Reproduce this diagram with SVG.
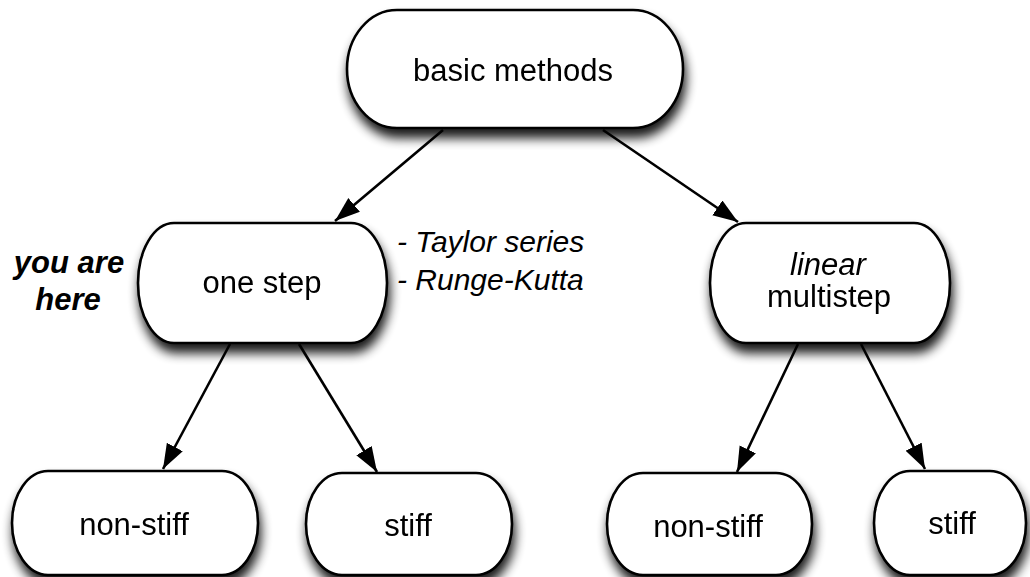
<svg xmlns="http://www.w3.org/2000/svg" width="1030" height="577" viewBox="0 0 1030 577">
  <defs>
    <filter id="shadow" x="-20%" y="-20%" width="140%" height="160%">
      <feGaussianBlur in="SourceAlpha" stdDeviation="5.5"/>
      <feOffset dx="2" dy="9" result="b"/>
      <feComponentTransfer in="b" result="s"><feFuncA type="linear" slope="0.9"/></feComponentTransfer>
      <feMerge><feMergeNode in="s"/><feMergeNode in="SourceGraphic"/></feMerge>
    </filter>
    <marker id="arrow" markerUnits="userSpaceOnUse" markerWidth="28" markerHeight="22" refX="25" refY="9" orient="auto">
      <path d="M0,0 L25,9 L0,18 Z" fill="#000"/>
    </marker>
  </defs>
  <style>
    .node { fill: #fff; stroke: #000; stroke-width: 2.6; }
    .lbl { font-family: "Liberation Sans", Arial, sans-serif; font-size: 31px; fill: #000; text-anchor: middle; }
    .side { font-family: "Liberation Sans", Arial, sans-serif; font-size: 30px; font-style: italic; fill: #000; }
    .here { font-family: "Liberation Sans", Arial, sans-serif; font-size: 31px; font-style: italic; font-weight: bold; fill: #000; text-anchor: middle; }
    .edge { stroke: #000; stroke-width: 2.6; fill: none; marker-end: url(#arrow); }
  </style>

  <g id="connectors">
    <line class="edge" x1="443" y1="130" x2="335" y2="221"/>
    <line class="edge" x1="603" y1="130" x2="738" y2="222"/>
    <line class="edge" x1="230" y1="344" x2="163" y2="469"/>
    <line class="edge" x1="299" y1="344" x2="377" y2="472"/>
    <line class="edge" x1="798" y1="344" x2="737" y2="472"/>
    <line class="edge" x1="861" y1="344" x2="925" y2="469"/>
  </g>

  <g id="node-basic" filter="url(#shadow)">
    <rect class="node" x="347" y="10" width="336" height="118" rx="50" ry="59"/>
    <text class="lbl" x="513" y="81">basic methods</text>
  </g>

  <g id="node-onestep" filter="url(#shadow)">
    <rect class="node" x="138" y="223" width="249" height="120" rx="36" ry="60"/>
    <text class="lbl" x="262" y="293">one step</text>
  </g>

  <g id="node-linear" filter="url(#shadow)">
    <rect class="node" x="710" y="223" width="240" height="120" rx="36" ry="60"/>
    <text class="lbl" x="828" y="275"><tspan font-style="italic">linear</tspan></text>
    <text class="lbl" x="829" y="307">multistep</text>
  </g>

  <g id="node-nonstiff-left" filter="url(#shadow)">
    <rect class="node" x="12" y="471" width="246" height="104" rx="36" ry="52"/>
    <text class="lbl" x="134" y="535">non-stiff</text>
  </g>

  <g id="node-stiff-left" filter="url(#shadow)">
    <rect class="node" x="306" y="473" width="206" height="102" rx="36" ry="51"/>
    <text class="lbl" x="408" y="536">stiff</text>
  </g>

  <g id="node-nonstiff-right" filter="url(#shadow)">
    <rect class="node" x="607" y="473" width="205" height="102" rx="36" ry="51"/>
    <text class="lbl" x="708" y="537">non-stiff</text>
  </g>

  <g id="node-stiff-right" filter="url(#shadow)">
    <rect class="node" x="874" y="471" width="152" height="104" rx="36" ry="52"/>
    <text class="lbl" x="952" y="534">stiff</text>
  </g>

  <g id="annotation-here">
    <text class="here" x="69" y="273">you are</text>
    <text class="here" x="68" y="310">here</text>
  </g>

  <g id="annotation-methods">
    <text class="side" x="397" y="252">- Taylor series</text>
    <text class="side" x="397" y="290">- Runge-Kutta</text>
  </g>
</svg>
